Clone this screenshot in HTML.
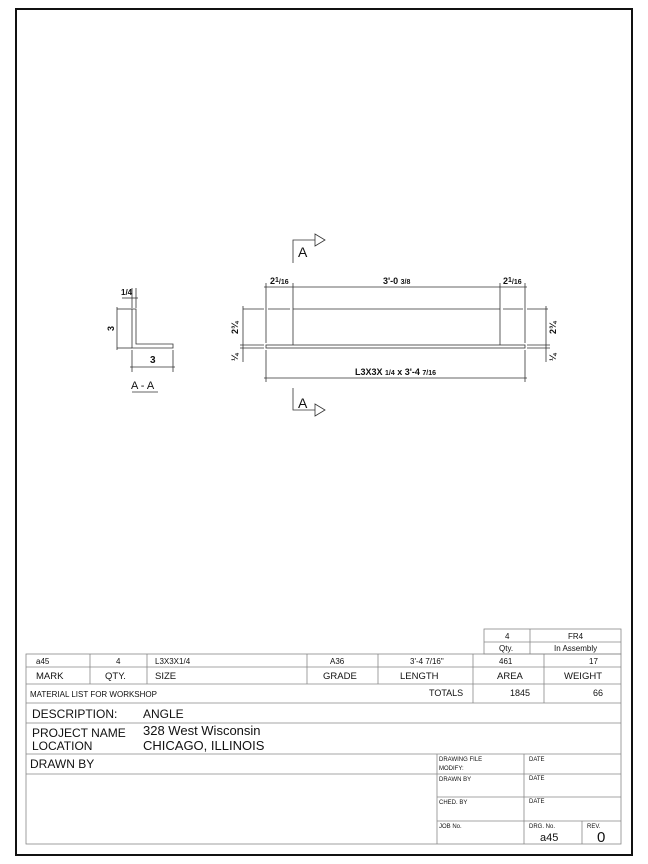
<!DOCTYPE html>
<html><head><meta charset="utf-8"><style>
html,body{margin:0;padding:0;background:#fff}
svg{display:block}
text{font-family:"Liberation Sans",Arial,sans-serif;fill:#111}
</style></head><body>
<svg width="648" height="864" viewBox="0 0 648 864" xmlns="http://www.w3.org/2000/svg">
<rect x="16" y="9" width="616" height="846" fill="none" stroke="#111" stroke-width="2"/>

<!-- Section A-A -->
<g stroke="#333" stroke-width="0.8" fill="none">
<path d="M132 309 L136 309 L136 344 L173 344 L173 348 L132 348 Z"/>
<line x1="117" y1="309" x2="132" y2="309"/><line x1="117" y1="348" x2="132" y2="348"/>
<line x1="117" y1="307" x2="117" y2="350"/>
<line x1="132" y1="350" x2="132" y2="372"/><line x1="173" y1="350" x2="173" y2="372"/>
<line x1="130" y1="367" x2="175" y2="367"/>
<line x1="132" y1="288" x2="132" y2="308"/><line x1="136" y1="288" x2="136" y2="308"/>
<line x1="122" y1="298" x2="138" y2="298"/>
<line x1="132" y1="392" x2="158" y2="392"/>
</g>
<text x="121" y="295" font-size="8" font-weight="bold">1/4</text>
<text x="114" y="331" font-size="9" font-weight="bold" transform="rotate(-90 114 331)">3</text>
<text x="150" y="363" font-size="10" font-weight="bold">3</text>
<text x="131" y="389" font-size="11">A - A</text>

<!-- Elevation -->
<g stroke="#333" stroke-width="0.8" fill="none">
<rect x="266" y="345" width="259" height="3"/>
<line x1="293" y1="309" x2="500" y2="309"/>
<line x1="243" y1="309" x2="264" y2="309"/><line x1="268" y1="309" x2="290" y2="309"/>
<line x1="503" y1="309" x2="523" y2="309"/><line x1="527" y1="309" x2="548" y2="309"/>
<line x1="293" y1="283" x2="293" y2="345"/><line x1="500" y1="283" x2="500" y2="345"/>
<line x1="266" y1="283" x2="266" y2="343"/><line x1="266" y1="350" x2="266" y2="382"/>
<line x1="525" y1="283" x2="525" y2="343"/><line x1="525" y1="350" x2="525" y2="382"/>
<line x1="264" y1="287" x2="527" y2="287"/>
<line x1="264" y1="378" x2="527" y2="378"/>
<line x1="240" y1="345" x2="264" y2="345"/><line x1="240" y1="348" x2="264" y2="348"/>
<line x1="527" y1="345" x2="550" y2="345"/><line x1="527" y1="348" x2="550" y2="348"/>
<line x1="243" y1="306" x2="243" y2="362"/>
<line x1="546" y1="306" x2="546" y2="362"/>
<polyline points="293,263 293,240 315,240"/>
<polygon points="315,234 325,240 315,246"/>
<polyline points="293,388 293,410 315,410"/>
<polygon points="315,404 325,410 315,416"/>
</g>
<text x="298" y="257" font-size="14">A</text>
<text x="298" y="408" font-size="14">A</text>
<g font-weight="bold">
<text x="270" y="284" font-size="9">2<tspan font-size="7" dy="-2">1</tspan><tspan font-size="7" dy="2">/16</tspan></text>
<text x="383" y="284" font-size="9">3'-0 <tspan font-size="7">3/8</tspan></text>
<text x="503" y="284" font-size="9">2<tspan font-size="7" dy="-2">1</tspan><tspan font-size="7" dy="2">/16</tspan></text>
<text x="355" y="375" font-size="9">L3X3X <tspan font-size="7">1/4</tspan> x 3'-4 <tspan font-size="7">7/16</tspan></text>
<text x="238" y="334" font-size="9" transform="rotate(-90 238 334)">2¾</text>
<text x="238" y="361" font-size="9" transform="rotate(-90 238 361)">¼</text>
<text x="556" y="334" font-size="9" transform="rotate(-90 556 334)">2¾</text>
<text x="556" y="361" font-size="9" transform="rotate(-90 556 361)">¼</text>
</g>

<!-- Title block -->
<g stroke="#888" stroke-width="0.8" fill="none">
<rect x="484" y="629" width="137" height="25"/>
<line x1="484" y1="642" x2="621" y2="642"/>
<line x1="530" y1="629" x2="530" y2="654"/>
<rect x="26" y="654" width="595" height="190"/>
<line x1="26" y1="667" x2="621" y2="667"/>
<line x1="26" y1="684" x2="621" y2="684"/>
<line x1="26" y1="703" x2="621" y2="703"/>
<line x1="26" y1="723" x2="621" y2="723"/>
<line x1="26" y1="754" x2="621" y2="754"/>
<line x1="26" y1="774" x2="621" y2="774"/>
<line x1="437" y1="797" x2="621" y2="797"/>
<line x1="437" y1="821" x2="621" y2="821"/>
<line x1="90" y1="654" x2="90" y2="684"/>
<line x1="147" y1="654" x2="147" y2="684"/>
<line x1="307" y1="654" x2="307" y2="684"/>
<line x1="378" y1="654" x2="378" y2="684"/>
<line x1="473" y1="654" x2="473" y2="703"/>
<line x1="544" y1="654" x2="544" y2="703"/>
<line x1="437" y1="754" x2="437" y2="844"/>
<line x1="524" y1="754" x2="524" y2="844"/>
<line x1="582" y1="821" x2="582" y2="844"/>
</g>
<g font-size="8">
<text x="505" y="639">4</text>
<text x="568" y="639">FR4</text>
<text x="499" y="651">Qty.</text>
<text x="554" y="651">In Assembly</text>
<text x="36" y="664">a45</text>
<text x="116" y="664">4</text>
<text x="155" y="664">L3X3X1/4</text>
<text x="330" y="664">A36</text>
<text x="410" y="664">3'-4 7/16"</text>
<text x="499" y="664">461</text>
<text x="589" y="664">17</text>
</g>
<g font-size="9.5">
<text x="36" y="679">MARK</text>
<text x="105" y="679">QTY.</text>
<text x="155" y="679">SIZE</text>
<text x="323" y="679">GRADE</text>
<text x="400" y="679">LENGTH</text>
<text x="497" y="679">AREA</text>
<text x="564" y="679">WEIGHT</text>
</g>
<text x="30" y="697" font-size="8">MATERIAL LIST FOR WORKSHOP</text>
<text x="429" y="696" font-size="9">TOTALS</text>
<text x="510" y="696" font-size="9">1845</text>
<text x="593" y="696" font-size="9">66</text>
<text x="32" y="718" font-size="12">DESCRIPTION:</text>
<text x="143" y="718" font-size="12">ANGLE</text>
<text x="32" y="737" font-size="12">PROJECT NAME</text>
<text x="143" y="735" font-size="13">328 West Wisconsin</text>
<text x="32" y="750" font-size="12">LOCATION</text>
<text x="143" y="750" font-size="13">CHICAGO, ILLINOIS</text>
<text x="30" y="768" font-size="12">DRAWN BY</text>
<g font-size="6">
<text x="439" y="761">DRAWING FILE</text>
<text x="439" y="770">MODIFY:</text>
<text x="529" y="761">DATE</text>
<text x="439" y="781">DRAWN BY</text>
<text x="529" y="780">DATE</text>
<text x="439" y="804">CHED. BY</text>
<text x="529" y="803">DATE</text>
<text x="439" y="828">JOB No.</text>
<text x="529" y="828">DRG. No.</text>
<text x="587" y="828">REV.</text>
</g>
<text x="540" y="841" font-size="11">a45</text>
<text x="597" y="842" font-size="15">0</text>
</svg>
</body></html>
